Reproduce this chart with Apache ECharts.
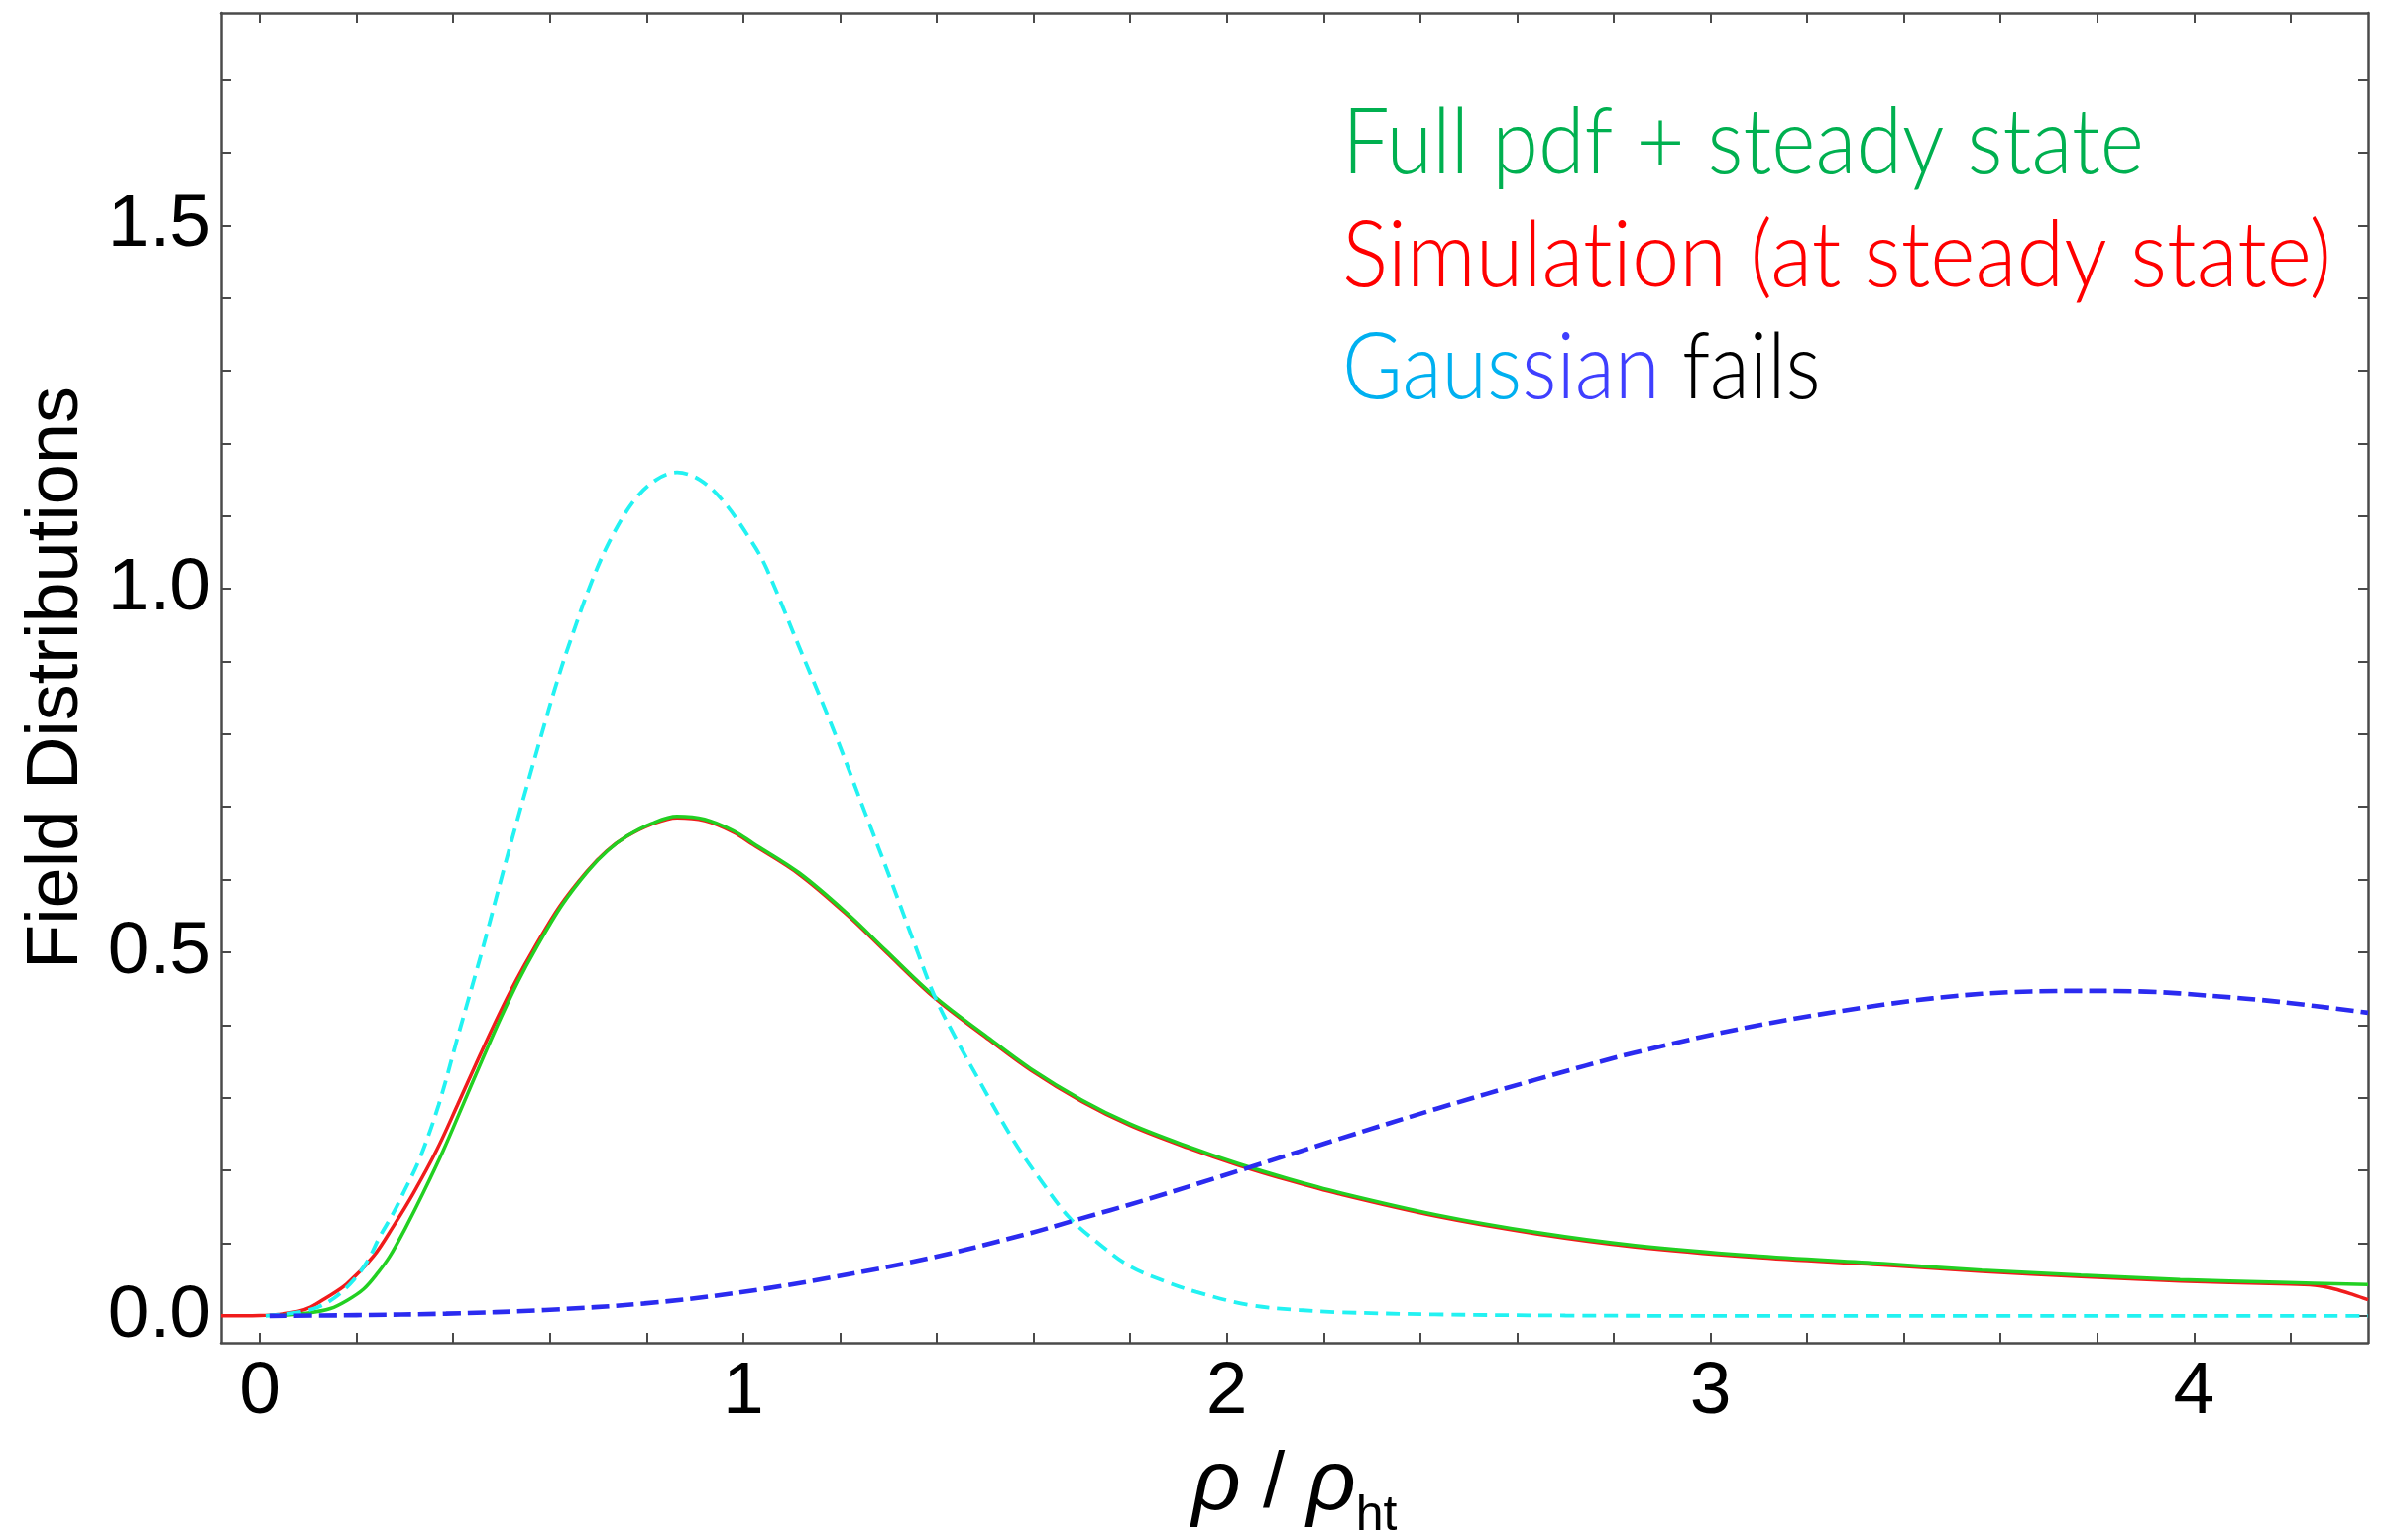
<!DOCTYPE html>
<html>
<head>
<meta charset="utf-8">
<script src="https://cdn.jsdelivr.net/npm/echarts@6/dist/echarts.min.js"></script>
<style>
  html, body { margin: 0; padding: 0; background: #ffffff; }
  #chart { width: 2402px; height: 1554px; }
</style>
</head>
<body>
<div id="chart"></div>
<script>
// Axis extents (rho / rho_ht on x, distribution value on y)
const xRange = [-0.08, 4.36];
const yRange = [-0.037, 1.792];

// Tick positions and labels
const xMajorTicks = [0, 1, 2, 3, 4];
const xMinorTicks = [0, 0.2, 0.4, 0.6, 0.8, 1, 1.2, 1.4, 1.6, 1.8, 2, 2.2, 2.4, 2.6, 2.8, 3, 3.2, 3.4, 3.6, 3.8, 4, 4.2];
const yMajorTicks = [0, 0.5, 1, 1.5];
const yMinorTicks = [0, 0.1, 0.2, 0.3, 0.4, 0.5, 0.6, 0.7, 0.8, 0.9, 1, 1.1, 1.2, 1.3, 1.4, 1.5, 1.6, 1.7];

// Full pdf + steady state (green)
const fullPdf = [
  [0.03, 0], [0.10, 0.004], [0.146, 0.010], [0.18, 0.021], [0.215, 0.037], [0.245, 0.060],
  [0.269, 0.082], [0.303, 0.123], [0.338, 0.169], [0.38, 0.228], [0.42, 0.290], [0.46, 0.352],
  [0.50, 0.412], [0.535, 0.461], [0.57, 0.504], [0.624, 0.564], [0.679, 0.612], [0.72, 0.640],
  [0.76, 0.660], [0.81, 0.677], [0.863, 0.687], [0.92, 0.683], [0.98, 0.667], [1.02, 0.650],
  [1.116, 0.609], [1.219, 0.551], [1.294, 0.503], [1.396, 0.439], [1.50, 0.386], [1.594, 0.340],
  [1.70, 0.297], [1.80, 0.264], [1.92, 0.233], [2.025, 0.209], [2.13, 0.188], [2.23, 0.170],
  [2.434, 0.139], [2.64, 0.115], [2.844, 0.097], [3.086, 0.083], [3.357, 0.072], [3.561, 0.063],
  [3.766, 0.056], [3.971, 0.050], [4.176, 0.046], [4.36, 0.043]
];

// Simulation at steady state (red)
const simulation = [
  [-0.08, 0], [0.0, 0.0005], [0.04, 0.002], [0.078, 0.006], [0.105, 0.012], [0.133, 0.023],
  [0.18, 0.044], [0.235, 0.082], [0.276, 0.123], [0.318, 0.169], [0.366, 0.228], [0.409, 0.290],
  [0.451, 0.352], [0.493, 0.412], [0.530, 0.461], [0.566, 0.504], [0.62, 0.563], [0.676, 0.611],
  [0.717, 0.639], [0.758, 0.659], [0.81, 0.676], [0.863, 0.685], [0.92, 0.681], [0.98, 0.665],
  [1.02, 0.648], [1.116, 0.607], [1.219, 0.549], [1.294, 0.501], [1.396, 0.437], [1.50, 0.384],
  [1.594, 0.338], [1.70, 0.295], [1.80, 0.262], [1.92, 0.231], [2.025, 0.207], [2.13, 0.186],
  [2.23, 0.168], [2.434, 0.137], [2.64, 0.113], [2.844, 0.095], [3.086, 0.081], [3.357, 0.070],
  [3.561, 0.061], [3.766, 0.054], [3.971, 0.048], [4.176, 0.044], [4.25, 0.042], [4.29, 0.037],
  [4.33, 0.029], [4.36, 0.022]
];

// Narrow Gaussian estimate (cyan, dashed)
const gaussianNarrow = [
  [0.012, 0], [0.06, 0.003], [0.112, 0.010], [0.155, 0.025], [0.195, 0.050], [0.225, 0.078],
  [0.248, 0.109], [0.275, 0.140], [0.297, 0.169], [0.33, 0.215], [0.37, 0.290], [0.41, 0.385],
  [0.461, 0.505], [0.501, 0.605], [0.529, 0.673], [0.556, 0.737], [0.583, 0.800], [0.611, 0.864],
  [0.638, 0.920], [0.686, 1.009], [0.727, 1.070], [0.775, 1.122], [0.82, 1.150], [0.863, 1.160],
  [0.91, 1.150], [0.959, 1.120], [1.02, 1.062], [1.048, 1.028], [1.116, 0.919], [1.184, 0.810],
  [1.253, 0.690], [1.307, 0.596], [1.355, 0.510], [1.396, 0.439], [1.44, 0.381], [1.485, 0.327],
  [1.56, 0.240], [1.62, 0.182], [1.676, 0.134], [1.74, 0.097], [1.80, 0.068], [1.87, 0.048],
  [1.936, 0.033], [2.045, 0.015], [2.15, 0.008], [2.23, 0.005], [2.43, 0.002], [2.7, 0.0005],
  [3.0, 0], [4.36, 0]
];

// Wide Gaussian estimate (blue, dashed)
const gaussianWide = [
  [0.02, 0], [0.2, 0.001], [0.385, 0.003], [0.59, 0.008], [0.795, 0.017], [0.98, 0.031],
  [1.184, 0.053], [1.389, 0.080], [1.594, 0.114], [1.683, 0.131], [1.834, 0.160], [2.041, 0.203],
  [2.23, 0.243], [2.434, 0.285], [2.64, 0.325], [2.844, 0.362], [3.086, 0.398], [3.357, 0.428],
  [3.561, 0.443], [3.766, 0.447], [3.90, 0.446], [4.039, 0.440], [4.176, 0.432], [4.36, 0.417]
];

const frameColor = '#4a4a4a';
const tickFont = 'Liberation Sans';
const noteFont = '300 92px Lato';

function frameAxis(extra) {
  return Object.assign({
    type: 'value',
    axisLine: { show: true, onZero: false, lineStyle: { color: frameColor, width: 2.5 } },
    splitLine: { show: false }
  }, extra);
}

function curve(name, data, color, width, dash, z) {
  return {
    name: name, type: 'line', data: data,
    xAxisIndex: 0, yAxisIndex: 0,
    showSymbol: false, symbol: 'none',
    smooth: 0.35, clip: true,
    lineStyle: dash ? { color: color, width: width, type: dash } : { color: color, width: width },
    z: z
  };
}

const chart = echarts.init(document.getElementById('chart'), null, { renderer: 'canvas' });

chart.setOption({
  animation: false,
  backgroundColor: '#ffffff',
  grid: { left: 223, right: 13, top: 13, bottom: 199, containLabel: false, outerBoundsMode: 'none' },
  xAxis: [
    frameAxis({
      position: 'bottom',
      min: xRange[0], max: xRange[1],
      axisTick: { show: true, inside: true, length: 10, customValues: xMinorTicks,
                  lineStyle: { color: frameColor, width: 2 } },
      axisLabel: { show: true, customValues: xMajorTicks, margin: 13,
                   fontFamily: tickFont, fontSize: 75, color: '#000',
                   formatter: v => String(Math.round(v)) },
      name: '{r|ρ}{s| / }{r|ρ}{sub|ht}',
      nameLocation: 'middle',
      nameGap: 88,
      nameTextStyle: {
        rich: {
          r: { fontFamily: tickFont, fontStyle: 'italic', fontSize: 86, color: '#000',
               lineHeight: 112, verticalAlign: 'middle' },
          s: { fontFamily: tickFont, fontSize: 80, color: '#000',
               lineHeight: 112, verticalAlign: 'middle' },
          sub: { fontFamily: tickFont, fontSize: 50, color: '#000',
                 lineHeight: 112, verticalAlign: 'bottom' }
        }
      }
    }),
    frameAxis({
      position: 'top',
      min: xRange[0], max: xRange[1],
      axisTick: { show: true, inside: true, length: 10, customValues: xMinorTicks,
                  lineStyle: { color: frameColor, width: 2 } },
      axisLabel: { show: false }
    })
  ],
  yAxis: [
    frameAxis({
      position: 'left',
      min: yRange[0], max: yRange[1],
      axisTick: { show: true, inside: true, length: 10, customValues: yMinorTicks,
                  lineStyle: { color: frameColor, width: 2 } },
      axisLabel: { show: true, customValues: yMajorTicks, margin: 10,
                   fontFamily: tickFont, fontSize: 75, color: '#000',
                   formatter: v => v.toFixed(1) },
      name: 'Field Distributions',
      nameLocation: 'middle',
      nameRotate: 90,
      nameGap: 128,
      nameTextStyle: { fontFamily: tickFont, fontSize: 74, color: '#000' }
    }),
    frameAxis({
      position: 'right',
      min: yRange[0], max: yRange[1],
      axisTick: { show: true, inside: true, length: 10, customValues: yMinorTicks,
                  lineStyle: { color: frameColor, width: 2 } },
      axisLabel: { show: false }
    })
  ],
  series: [
    curve('Simulation (at steady state)', simulation, '#f01c1c', 3.5, null, 2),
    curve('Full pdf + steady state', fullPdf, '#22d022', 3.5, null, 3),
    curve('Gaussian (narrow)', gaussianNarrow, '#22f2f2', 3.8, [14, 8], 4),
    curve('Gaussian (wide)', gaussianWide, '#2b2bf0', 4.6, [18, 7], 5)
  ],
  graphic: [
    {
      type: 'text', x: 1354, y: 145, z: 10, scaleX: 0.92,
      style: { text: 'Full pdf + steady state', fill: '#00b050',
               font: noteFont, verticalAlign: 'middle', align: 'left' }
    },
    {
      type: 'text', x: 1354, y: 259, z: 10, scaleX: 0.942,
      style: { text: 'Simulat\u200Cion (at steady state)', fill: '#ff0000',
               font: noteFont, verticalAlign: 'middle', align: 'left' }
    },
    {
      type: 'text', x: 1354, y: 372, z: 10, scaleX: 0.90,
      style: {
        text: '{c|Gaus}{b|sian}{k| fails}',
        font: noteFont, verticalAlign: 'middle', align: 'left',
        rich: {
          c: { fill: '#00b0f0', font: noteFont },
          b: { fill: '#3f3fff', font: noteFont },
          k: { fill: '#000000', font: noteFont }
        }
      }
    }
  ]
});
</script>
</body>
</html>
